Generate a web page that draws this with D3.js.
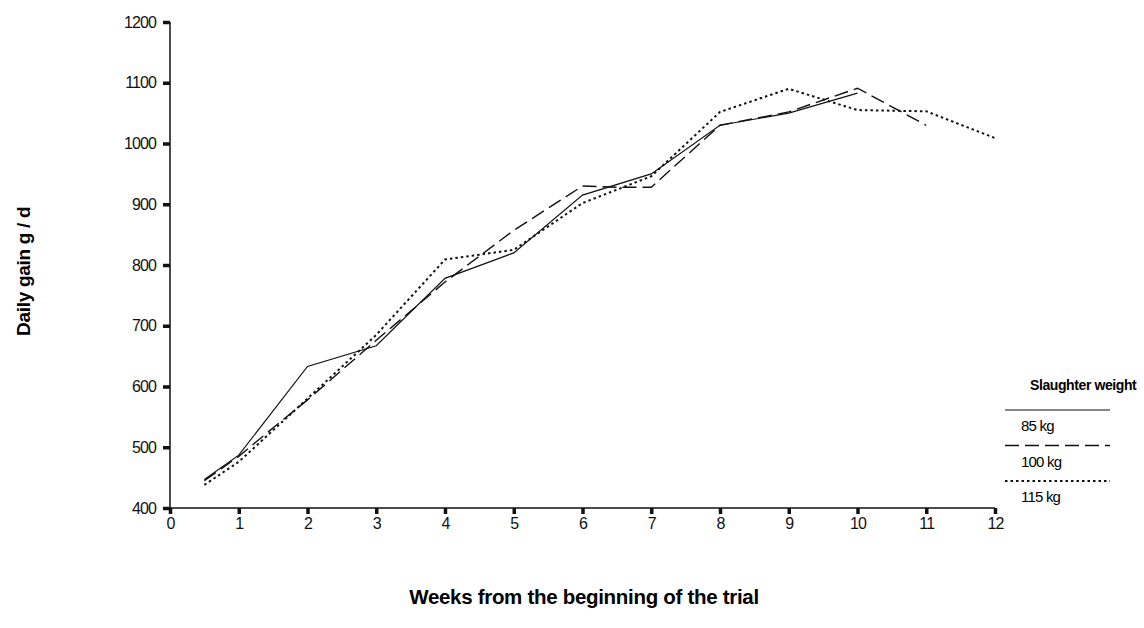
<!DOCTYPE html>
<html>
<head>
<meta charset="utf-8">
<script src="https://cdn.jsdelivr.net/npm/d3@7"></script>
<style>
  body { margin: 0; background: #fff; }
  svg { font-family: "Liberation Sans", Arial, sans-serif; }
  .tick text { font-size: 16px; letter-spacing: -0.9px; fill: #111; }
</style>
</head>
<body>
<svg id="chart" width="1144" height="628"></svg>
<script>
// weeks of the trial and daily gain (g/d) per slaughter weight group
const weeks85 = [0.5, 1, 2, 3, 4, 5, 6, 7, 8, 9, 10];
const gain85 = [447, 487, 633, 667, 778, 820, 915, 950, 1030, 1050, 1083];

const weeks100 = [0.5, 1, 1.5, 2, 3, 4, 5, 6, 6.5, 7, 8, 9, 10, 11];
const gain100 = [445, 485, 532, 578, 676, 772, 857, 930, 928, 928, 1030, 1052, 1091, 1030];

const weeks115 = [0.5, 1, 2, 3, 4, 5, 6, 7, 8, 9, 10, 11, 12];
const gain115 = [438, 476, 580, 685, 809, 825, 902, 946, 1052, 1090, 1055, 1053, 1009];

const legendLabels = ["85 kg", "100 kg", "115 kg"];
const xTicks = d3.range(0, 13);
const yTicks = [400, 500, 600, 700, 800, 900, 1000, 1100, 1200];

const svg = d3.select("#chart");

const x = d3.scaleLinear().domain([0, 12]).range([170, 995]);
const y = d3.scaleLinear().domain([400, 1200]).range([508, 22]);

const series = [
  { w: weeks85, g: gain85, dash: null, width: 1.2 },
  { w: weeks100, g: gain100, dash: "14,6", width: 1.4 },
  { w: weeks115, g: gain115, dash: "2.5,3", width: 2 }
];

// axes
const yAxis = svg.append("g")
    .attr("transform", `translate(${x(0)},0)`)
    .call(d3.axisLeft(y).tickValues(yTicks).tickFormat(d3.format("d")).tickSize(7).tickPadding(7));
const xAxis = svg.append("g")
    .attr("transform", `translate(0,${y(400)})`)
    .call(d3.axisBottom(x).tickValues(xTicks).tickSize(6).tickPadding(4));

[yAxis, xAxis].forEach(ax => {
  ax.select(".domain").attr("stroke", "#111").attr("stroke-width", 1.5);
  ax.selectAll(".tick line").attr("stroke", "#111").attr("stroke-width", 3.5);
});
xAxis.select(".domain").attr("d", `M${x(0)},0H${x(12)}`);
yAxis.select(".domain").attr("d", `M0,${y(1200)}V${y(400)}`);

// lines
const line = d3.line().x(d => x(d[0])).y(d => y(d[1]));
series.forEach(s => {
  svg.append("path")
      .datum(s.w.map((w, i) => [w, s.g[i]]))
      .attr("fill", "none")
      .attr("stroke", "#111")
      .attr("stroke-width", s.width)
      .attr("stroke-dasharray", s.dash)
      .attr("d", line);
});

// axis titles
svg.append("text")
    .attr("transform", "translate(30,336) rotate(-90)")
    .style("font-size", "19px")
    .style("font-weight", "bold")
    .style("letter-spacing", "-0.3px")
    .text("Daily gain g / d");

svg.append("text")
    .attr("x", 584).attr("y", 604)
    .attr("text-anchor", "middle")
    .style("font-size", "20.5px")
    .style("font-weight", "bold")
    .style("letter-spacing", "-0.3px")
    .text("Weeks from the beginning of the trial");

// legend
const lg = svg.append("g");
lg.append("text")
    .attr("x", 1030).attr("y", 390)
    .style("font-size", "14px")
    .style("font-weight", "bold")
    .style("letter-spacing", "-0.4px")
    .text("Slaughter weight");

const legendY = d3.scalePoint().domain(legendLabels).range([410, 481]);
legendLabels.forEach((lab, i) => {
  lg.append("line")
      .attr("x1", 1005).attr("x2", 1110)
      .attr("y1", legendY(lab)).attr("y2", legendY(lab))
      .attr("stroke", "#111")
      .attr("stroke-width", series[i].width)
      .attr("stroke-dasharray", series[i].dash);
  lg.append("text")
      .attr("x", 1021).attr("y", legendY(lab) + 21)
      .style("font-size", "15px")
      .style("letter-spacing", "-0.8px")
      .text(lab);
});
</script>
</body>
</html>
